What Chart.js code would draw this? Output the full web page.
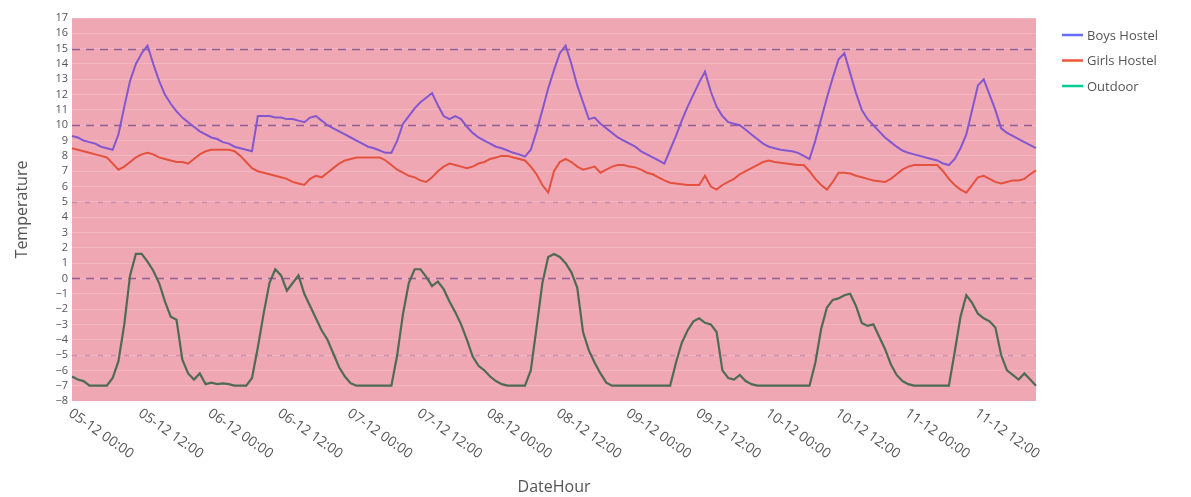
<!DOCTYPE html>
<html>
<head>
<meta charset="utf-8">
<script src="https://cdn.jsdelivr.net/npm/chart.js@4/dist/chart.umd.min.js"></script>
<style>
html,body{margin:0;padding:0;background:#fff;}
#wrap{width:1191px;height:497px;position:relative;}
</style>
</head>
<body>
<div id="wrap"><canvas id="c" width="1191" height="497"></canvas></div>
<script>
// ---- data (hourly, 05-12 00:00 .. 11-12 22:00) ----
const startDay = 5;
const hourCount = 167;
const categories = [];
for (let i = 0; i < hourCount; i++) {
  const d = startDay + Math.floor(i / 24), h = i % 24;
  categories.push(String(d).padStart(2,'0') + '-12 ' + String(h).padStart(2,'0') + ':00');
}
const tickLabels = ['05-12 00:00','05-12 12:00','06-12 00:00','06-12 12:00','07-12 00:00','07-12 12:00','08-12 00:00','08-12 12:00','09-12 00:00','09-12 12:00','10-12 00:00','10-12 12:00','11-12 00:00','11-12 12:00'];
const seriesNames = ['Boys Hostel','Girls Hostel','Outdoor'];

const boysHostel = [
 9.3,9.2,9.0,8.9,8.8,8.6,8.5,8.4,9.4,11.2,
 12.9,14.0,14.7,15.2,14.0,12.9,12.0,11.4,10.9,10.5,
 10.2,9.9,9.6,9.4,9.2,9.1,8.9,8.8,8.6,8.5,
 8.4,8.3,10.6,10.6,10.6,10.5,10.5,10.4,10.4,10.3,
 10.2,10.5,10.6,10.3,10.0,9.8,9.6,9.4,9.2,9.0,
 8.8,8.6,8.5,8.35,8.2,8.2,9.0,10.1,10.6,11.1,
 11.5,11.8,12.1,11.3,10.6,10.4,10.6,10.4,9.9,9.5,
 9.2,9.0,8.8,8.6,8.5,8.35,8.2,8.1,7.95,8.4,
 9.6,11.0,12.4,13.6,14.7,15.2,14.0,12.6,11.5,10.4,
 10.5,10.1,9.8,9.5,9.2,9.0,8.8,8.6,8.3,8.1,
 7.9,7.7,7.5,8.4,9.3,10.3,11.2,12.0,12.8,13.5,
 12.2,11.2,10.6,10.2,10.1,10.0,9.7,9.4,9.1,8.8,
 8.6,8.5,8.4,8.35,8.3,8.2,8.0,7.8,9.0,10.4,
 11.8,13.1,14.3,14.7,13.4,12.1,11.0,10.4,10.0,9.6,
 9.2,8.9,8.6,8.35,8.2,8.1,8.0,7.9,7.8,7.7,
 7.5,7.4,7.8,8.5,9.4,11.0,12.6,13.0,12.0,11.0,
 9.8,9.5,9.3,9.1,8.9,8.7,8.5
];
const girlsHostel = [
 8.5,8.4,8.3,8.2,8.1,8.0,7.9,7.5,7.1,7.3,
 7.6,7.9,8.1,8.2,8.1,7.9,7.8,7.7,7.6,7.6,
 7.5,7.8,8.1,8.3,8.4,8.4,8.4,8.4,8.3,8.0,
 7.6,7.2,7.0,6.9,6.8,6.7,6.6,6.5,6.3,6.2,
 6.1,6.5,6.7,6.6,6.9,7.2,7.5,7.7,7.8,7.9,
 7.9,7.9,7.9,7.9,7.7,7.4,7.1,6.9,6.7,6.6,
 6.4,6.3,6.6,7.0,7.3,7.5,7.4,7.3,7.2,7.3,
 7.5,7.6,7.8,7.9,8.0,8.0,7.9,7.8,7.7,7.3,
 6.8,6.1,5.6,7.0,7.6,7.8,7.6,7.3,7.1,7.2,
 7.3,6.9,7.1,7.3,7.4,7.4,7.3,7.25,7.1,6.9,
 6.8,6.6,6.4,6.25,6.2,6.15,6.1,6.1,6.1,6.7,
 6.0,5.8,6.1,6.3,6.5,6.8,7.0,7.2,7.4,7.6,
 7.7,7.6,7.55,7.5,7.45,7.4,7.4,7.0,6.5,6.1,
 5.8,6.3,6.9,6.9,6.85,6.7,6.6,6.5,6.4,6.35,
 6.3,6.5,6.8,7.1,7.3,7.4,7.4,7.4,7.4,7.4,
 7.0,6.5,6.1,5.8,5.6,6.1,6.6,6.7,6.5,6.3,
 6.2,6.3,6.4,6.4,6.5,6.8,7.05
];
const outdoor = [
 -6.4,-6.6,-6.7,-7.0,-7.0,-7.0,-7.0,-6.5,-5.4,-3.0,
 0.2,1.6,1.6,1.1,0.5,-0.3,-1.5,-2.5,-2.7,-5.3,
 -6.2,-6.6,-6.2,-6.9,-6.8,-6.9,-6.85,-6.9,-7.0,-7.0,
 -7.0,-6.5,-4.5,-2.3,-0.3,0.6,0.2,-0.8,-0.3,0.2,
 -1.0,-1.8,-2.6,-3.4,-4.0,-4.9,-5.8,-6.4,-6.85,-7.0,
 -7.0,-7.0,-7.0,-7.0,-7.0,-7.0,-5.0,-2.3,-0.3,0.6,
 0.6,0.1,-0.5,-0.2,-0.7,-1.5,-2.2,-3.0,-4.0,-5.1,
 -5.7,-6.0,-6.4,-6.7,-6.9,-7.0,-7.0,-7.0,-7.0,-6.0,
 -3.2,-0.3,1.4,1.6,1.4,1.0,0.4,-0.6,-3.5,-4.7,
 -5.5,-6.2,-6.8,-7.0,-7.0,-7.0,-7.0,-7.0,-7.0,-7.0,
 -7.0,-7.0,-7.0,-7.0,-5.5,-4.2,-3.4,-2.8,-2.6,-2.9,
 -3.0,-3.5,-6.0,-6.5,-6.6,-6.3,-6.7,-6.9,-7.0,-7.0,
 -7.0,-7.0,-7.0,-7.0,-7.0,-7.0,-7.0,-7.0,-5.5,-3.3,
 -1.9,-1.4,-1.3,-1.1,-1.0,-1.8,-2.9,-3.1,-3.0,-3.8,
 -4.6,-5.6,-6.3,-6.7,-6.9,-7.0,-7.0,-7.0,-7.0,-7.0,
 -7.0,-7.0,-4.8,-2.5,-1.1,-1.6,-2.3,-2.6,-2.8,-3.2,
 -5.0,-6.0,-6.3,-6.6,-6.2,-6.6,-7.0
];
const yMin = -8, yMax = 17;
const majorLines = [15, 10, 0];
const minorLines = [5, -5];

// ---- styles ----
const lineColors = ['#8456cf', '#e4523f', '#4f6b55'];
const legendColors = ['#636efa', '#ef553b', '#00cc96'];
const FONT = '"Open Sans", "Liberation Sans", sans-serif';

const decor = {
  id: 'decor',
  beforeDraw(chart) {
    const {ctx, chartArea: a} = chart;
    ctx.save();
    ctx.fillStyle = '#efa8b3';
    ctx.fillRect(a.left, a.top, a.right - a.left, a.bottom - a.top);
    ctx.restore();
  },
  beforeDatasetsDraw(chart) {
    const {ctx, chartArea: a, scales} = chart;
    const y = scales.y;
    ctx.save();
    ctx.lineWidth = 1.5;
    ctx.setLineDash([8, 6]);
    ctx.strokeStyle = 'rgba(125,70,135,0.8)';
    majorLines.forEach(v => {
      const py = Math.round(y.getPixelForValue(v)) + 0.5;
      ctx.beginPath(); ctx.moveTo(a.left, py); ctx.lineTo(a.right, py); ctx.stroke();
    });
    ctx.setLineDash([5, 8]);
    ctx.strokeStyle = 'rgba(175,120,165,0.6)';
    minorLines.forEach(v => {
      const py = Math.round(y.getPixelForValue(v)) + 0.5;
      ctx.beginPath(); ctx.moveTo(a.left, py); ctx.lineTo(a.right, py); ctx.stroke();
    });
    ctx.restore();
  },
  afterDraw(chart) {
    const {ctx, chartArea: a, scales} = chart;
    const x = scales.x;
    ctx.save();
    // x tick labels (rotated, starting at tick)
    ctx.fillStyle = '#555';
    ctx.font = '14px ' + FONT;
    ctx.textAlign = 'left';
    ctx.textBaseline = 'middle';
    tickLabels.forEach(lbl => {
      const idx = categories.indexOf(lbl);
      if (idx < 0) return;
      const px = x.getPixelForValue(idx);
      ctx.save();
      ctx.translate(px - 2, a.bottom + 11);
      ctx.rotate(35 * Math.PI / 180);
      ctx.fillText(lbl, 0, 0);
      ctx.restore();
    });
    // axis titles
    ctx.font = '16px ' + FONT;
    ctx.fillStyle = '#555';
    ctx.textAlign = 'center';
    ctx.fillText('DateHour', (a.left + a.right) / 2, 487);
    ctx.save();
    ctx.translate(22, (a.top + a.bottom) / 2);
    ctx.rotate(-Math.PI / 2);
    ctx.fillText('Temperature', 0, 0);
    ctx.restore();
    // legend
    ctx.font = '13px ' + FONT;
    ctx.textAlign = 'left';
    seriesNames.forEach((n, i) => {
      const ly = 35 + i * 25.5;
      ctx.strokeStyle = legendColors[i];
      ctx.lineWidth = 2.5;
      ctx.beginPath(); ctx.moveTo(1062, ly); ctx.lineTo(1083, ly); ctx.stroke();
      ctx.fillStyle = '#555';
      ctx.fillText(n, 1087, ly + 1);
    });
    ctx.restore();
  }
};

new Chart(document.getElementById('c'), {
  type: 'line',
  data: {
    labels: categories,
    datasets: [
      {label: seriesNames[0], data: boysHostel, borderColor: lineColors[0], borderWidth: 2, pointRadius: 0, tension: 0},
      {label: seriesNames[1], data: girlsHostel, borderColor: lineColors[1], borderWidth: 2, pointRadius: 0, tension: 0},
      {label: seriesNames[2], data: outdoor, borderColor: lineColors[2], borderWidth: 2.2, pointRadius: 0, tension: 0}
    ]
  },
  options: {
    responsive: false,
    animation: false,
    layout: {padding: {left: 0, right: 155, top: 18, bottom: 0}},
    plugins: {legend: {display: false}, tooltip: {enabled: false}},
    scales: {
      x: {
        type: 'category',
        offset: false,
        grid: {display: false, drawTicks: false},
        border: {display: false},
        ticks: {display: false},
        afterFit(s) { s.height = 96; }
      },
      y: {
        min: yMin, max: yMax,
        grid: {color: 'rgba(255,255,255,0.18)', drawTicks: false},
        border: {display: false},
        ticks: {
          stepSize: 1, autoSkip: false, padding: 4, color: '#555',
          font: {size: 11, family: FONT},
          callback: v => v < 0 ? '\u2212' + Math.abs(v) : String(v)
        },
        afterFit(s) { s.width = 72; }
      }
    }
  },
  plugins: [decor]
});
</script>
</body>
</html>
